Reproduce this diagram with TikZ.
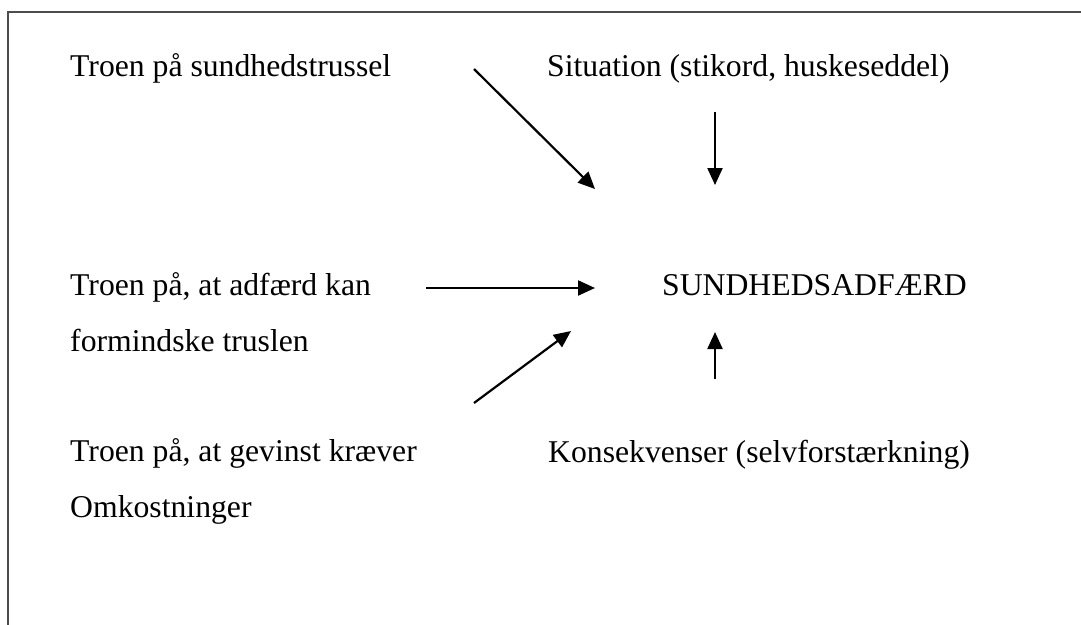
\documentclass[tikz,border=0pt]{standalone}
\usepackage{fontspec}
\setmainfont{Liberation Serif}
\usetikzlibrary{arrows.meta}
\begin{document}
\begin{tikzpicture}[x=1pt,y=-1pt,
  lbl/.style={anchor=base west,inner sep=0pt,font=\fontsize{31.7}{56}\selectfont,align=left},
  arr/.style={line width=2.2pt,-{Triangle[length=17pt,width=15pt]}},
  frame/.style={draw=black!70,line width=1.3pt}]
  \useasboundingbox (0,0) rectangle (1081,624);
  % open frame (top and left edges)
  \draw[frame] (8,630) -- (8,12) -- (1090,12);
  % texts (a multi-line node sits on the baseline of its last line)
  \node[lbl] (trussel) at (70,76) {Troen på sundhedstrussel};
  \node[lbl] (situation) at (547,76) {Situation (stikord, huskeseddel)};
  \node[lbl] (adfaerd) at (70,351) {Troen på, at adfærd kan\\formindske truslen};
  \node[lbl] (sund) at (662,295) {SUNDHEDSADFÆRD};
  \node[lbl] (gevinst) at (70,517) {Troen på, at gevinst kræver\\Omkostninger};
  \node[lbl] (konsek) at (548,462) {Konsekvenser (selvforstærkning)};
  % arrow end points
  \coordinate (a1s) at (474,69);  \coordinate (a1e) at (595,189);
  \coordinate (a2s) at (715,112); \coordinate (a2e) at (715,185);
  \coordinate (a3s) at (426,288); \coordinate (a3e) at (595,288);
  \coordinate (a4s) at (474,403); \coordinate (a4e) at (571,331);
  \coordinate (a5s) at (715,379); \coordinate (a5e) at (715,332);
  \draw[arr] (a1s) -- (a1e);
  \draw[arr] (a2s) -- (a2e);
  \draw[arr] (a3s) -- (a3e);
  \draw[arr] (a4s) -- (a4e);
  \draw[arr] (a5s) -- (a5e);
\end{tikzpicture}
\end{document}
